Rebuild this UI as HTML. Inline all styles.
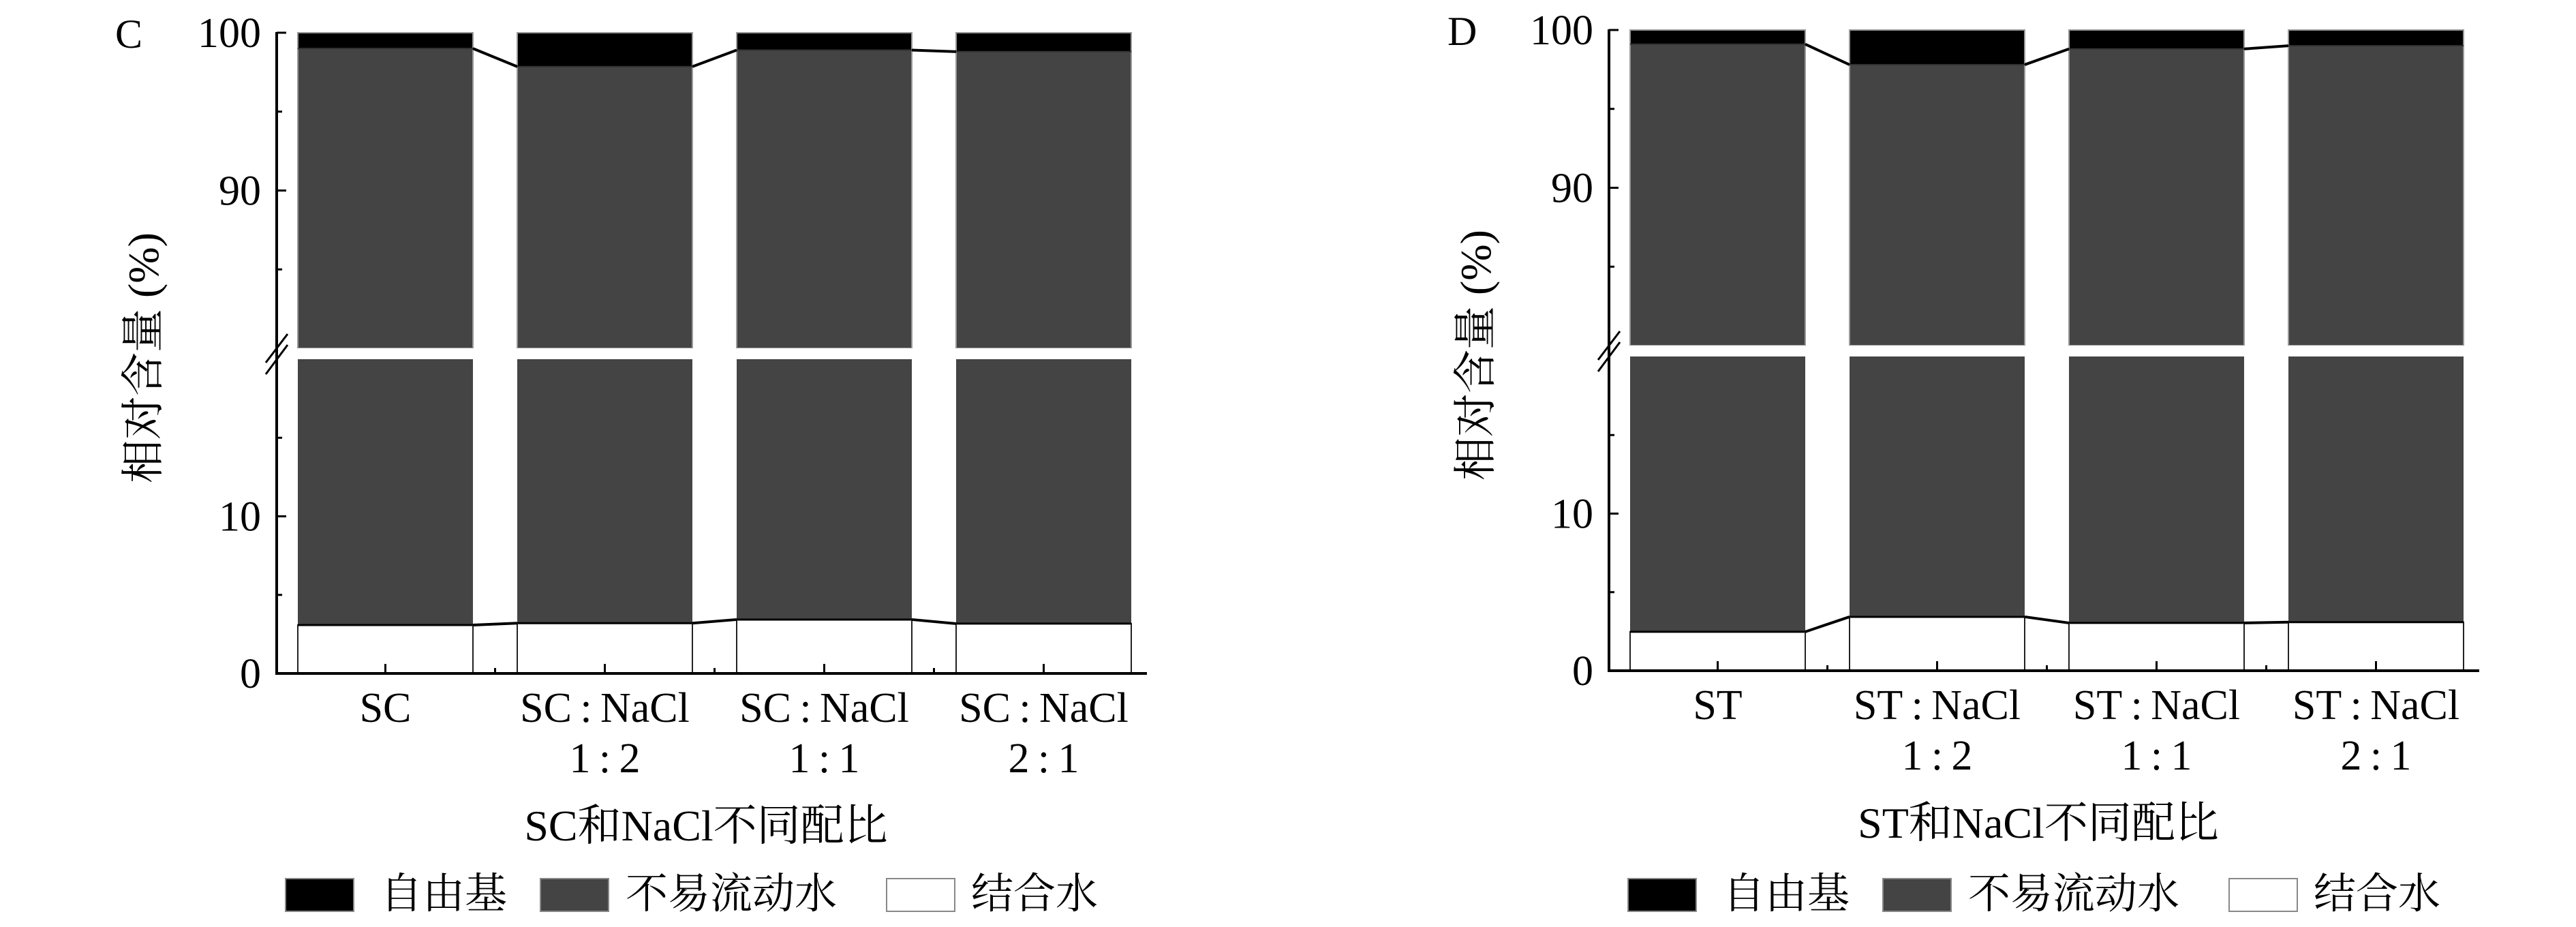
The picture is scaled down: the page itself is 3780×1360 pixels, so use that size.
<!DOCTYPE html>
<html><head><meta charset="utf-8"><style>
html,body{margin:0;padding:0;background:#fff;}
svg{display:block;}
text{font-family:"Liberation Serif","Noto Serif CJK SC","Noto Sans CJK SC",serif;fill:#000;}
</style></head><body>
<svg id="chart" width="3780" height="1360" viewBox="0 0 3780 1360" xmlns="http://www.w3.org/2000/svg"></svg>
<script>
// Panel C data
const catsC = ["SC", "SC\u2009:\u2009NaCl|1\u2009:\u20092", "SC\u2009:\u2009NaCl|1\u2009:\u20091", "SC\u2009:\u2009NaCl|2\u2009:\u20091"];
const immobileTopC = [99.0, 97.85, 98.9, 98.8];   // top of 不易流动水 (cumulative %)
const boundC = [3.08, 3.2, 3.43, 3.17];           // 结合水 %
// Panel D data
const catsD = ["ST", "ST\u2009:\u2009NaCl|1\u2009:\u20092", "ST\u2009:\u2009NaCl|1\u2009:\u20091", "ST\u2009:\u2009NaCl|2\u2009:\u20091"];
const immobileTopD = [99.1, 97.8, 98.8, 99.0];
const boundD = [2.48, 3.43, 3.04, 3.09];
const yTicksUpper = [90, 100];
const yTicksLower = [0, 10];
const yMinorUpper = [85, 95];
const yMinorLower = [5, 15];
const legendLabels = ["自由基", "不易流动水", "结合水"];

const NS = "http://www.w3.org/2000/svg";
const svg = document.getElementById("chart");
function mk(tag, attrs, parent) {
  const e = document.createElementNS(NS, tag);
  for (const k in attrs) e.setAttribute(k, attrs[k]);
  (parent || svg).appendChild(e);
  return e;
}

function drawPanel(dx, dy, letter, cats, tops, bounds, xTitle, legDx, name) {
  const g = mk("g", {});
  
  
  const axX = 406 + dx, top = 48 + dy, upBot = 511 + dy, loTop = 527 + dy, bot = 988 + dy;
  const axRight = 1683 + dx;
  const yU = v => upBot - (v - 80) / 20 * (upBot - top);
  const yL = v => bot - v / 20 * (bot - loTop);
  const barW = 257, period = 322, x0 = 437 + dx;
  const bx = i => x0 + i * period;

  cats.forEach((c, i) => {
    const x = bx(i);
    const r1 = mk("rect", {x: x, y: top, width: barW, height: yU(tops[i]) - top, fill: "#000"}, g);
    
    
    const r2 = mk("rect", {x: x, y: yU(tops[i]), width: barW, height: upBot - yU(tops[i]), fill: "#444"}, g);
    
    
    const r3 = mk("rect", {x: x, y: loTop, width: barW, height: yL(bounds[i]) - loTop, fill: "#444"}, g);
    
    
    const r4 = mk("rect", {x: x, y: yL(bounds[i]), width: barW, height: bot - yL(bounds[i]), fill: "#fff", stroke: "#222", "stroke-width": 2}, g);
    
    
    mk("rect", {x: x, y: top, width: barW, height: upBot - top, fill: "none", stroke: "#999", "stroke-width": 2}, g);
    mk("line", {x1: x, y1: yL(bounds[i]), x2: x + barW, y2: yL(bounds[i]), stroke: "#000", "stroke-width": 3}, g);
    mk("line", {x1: x, y1: yU(tops[i]), x2: x + barW, y2: yU(tops[i]), stroke: "#333", "stroke-width": 2}, g);
  });
  for (let i = 0; i < cats.length - 1; i++) {
    const xa = bx(i) + barW, xb = bx(i + 1);
    const c1 = mk("line", {x1: xa, y1: yU(tops[i]), x2: xb, y2: yU(tops[i + 1]), stroke: "#000", "stroke-width": 4}, g);
    
    
    mk("line", {x1: xa, y1: yL(bounds[i]), x2: xa, y2: bot, stroke: "#222", "stroke-width": 2}, g);
    mk("line", {x1: xb, y1: yL(bounds[i + 1]), x2: xb, y2: bot, stroke: "#222", "stroke-width": 2}, g);
    const c2 = mk("line", {x1: xa, y1: yL(bounds[i]), x2: xb, y2: yL(bounds[i + 1]), stroke: "#000", "stroke-width": 4}, g);
    
    
    mk("line", {x1: (xa + xb) / 2, y1: bot, x2: (xa + xb) / 2, y2: bot - 8, stroke: "#000", "stroke-width": 3}, g);
  }
  mk("rect", {x: axX + 2, y: upBot, width: axRight - axX, height: loTop - upBot, fill: "#fff"}, g);
  const ya = mk("line", {x1: axX, y1: top - 1, x2: axX, y2: bot + 2, stroke: "#000", "stroke-width": 4}, g);
  
  
  const xa = mk("line", {x1: axX - 2, y1: bot, x2: axRight, y2: bot, stroke: "#000", "stroke-width": 4}, g);
  
  
  mk("line", {x1: 390 + dx, y1: 532 + dy, x2: 422 + dx, y2: 490 + dy, stroke: "#000", "stroke-width": 3}, g);
  mk("line", {x1: 390 + dx, y1: 549 + dy, x2: 422 + dx, y2: 506 + dy, stroke: "#000", "stroke-width": 3}, g);
  const tick = (y, len, lab) => {
    mk("line", {x1: axX, y1: y, x2: axX + len, y2: y, stroke: "#000", "stroke-width": 3}, g);
    if (lab !== null) {
      const t = mk("text", {x: 383 + dx, y: y + 21, "text-anchor": "end", "font-size": 62}, g);
      t.textContent = lab;
      
      
    }
  };
  yTicksUpper.forEach(v => tick(yU(v), 14, String(v)));
  yTicksLower.forEach(v => tick(yL(v), 14, String(v)));
  yMinorUpper.forEach(v => tick(yU(v), 8, null));
  yMinorLower.forEach(v => tick(yL(v), 8, null));
  cats.forEach((c, i) => {
    const cx = bx(i) + barW / 2;
    mk("line", {x1: cx, y1: bot, x2: cx, y2: bot - 14, stroke: "#000", "stroke-width": 3}, g);
    const parts = c.split("|");
    parts.forEach((p, j) => {
      const t = mk("text", {x: cx, y: 1059 + dy + j * 74, "text-anchor": "middle", "font-size": 62}, g);
      t.textContent = p;
      
      
    });
  });
  const tl = mk("text", {x: 169 + dx, y: 70 + dy, "font-size": 60}, g);
  tl.textContent = letter;
  
  
  const yt = mk("text", {x: 0, y: 0, "text-anchor": "middle", "font-size": 64, transform: `translate(${232 + dx},${525 + dy}) rotate(-90)`}, g);
  yt.textContent = "相对含量 (%)";
  
  
  const xt = mk("text", {x: 1036 + dx, y: 1233 + dy, "text-anchor": "middle", "font-size": 64}, g);
  xt.textContent = xTitle;
  
  
  const sqX = [419, 793, 1301], txX = [558, 918, 1425], fills = ["#000", "#444", "#fff"];
  legendLabels.forEach((l, i) => {
    const r = mk("rect", {x: sqX[i] + legDx, y: 1289, width: 100, height: 48, fill: fills[i], stroke: "#888", "stroke-width": 2}, g);
    
    
    const t = mk("text", {x: txX[i] + legDx, y: 1332, "font-size": 62}, g);
    t.textContent = l;
    
    
  });
}
drawPanel(0, 0, "C", catsC, immobileTopC, boundC, "SC和NaCl不同配比", 0, "panel-c");
drawPanel(1955, -4, "D", catsD, immobileTopD, boundD, "ST和NaCl不同配比", 1970, "panel-d");
</script>
</body></html>
